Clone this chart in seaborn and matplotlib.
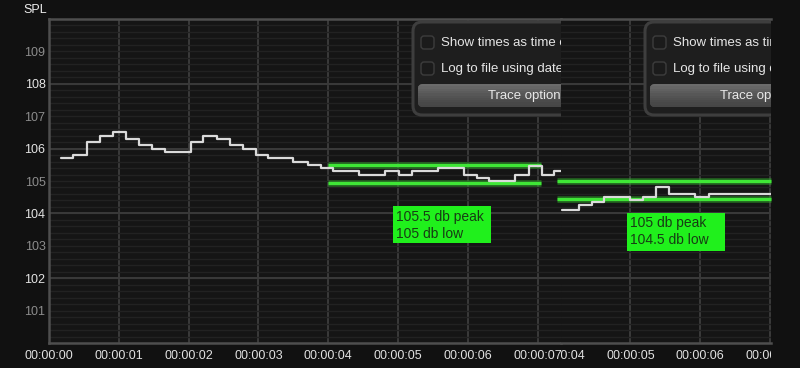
import numpy as np
import matplotlib
matplotlib.use("Agg")
import matplotlib.pyplot as plt
import seaborn as sns
from matplotlib.patches import FancyBboxPatch, Rectangle
from matplotlib.transforms import Affine2D, Bbox, TransformedBbox, blended_transform_factory
from matplotlib.ticker import MultipleLocator

# ---------------- data ----------------
left_times = [0.17, 0.35, 0.54, 0.73, 0.92, 1.11, 1.29, 1.47, 1.66, 1.85,
              2.04, 2.21, 2.40, 2.59, 2.78, 2.96, 3.14, 3.32, 3.50, 3.71,
              3.90, 4.07, 4.26, 4.44, 4.63, 4.81, 5.02, 5.20, 5.39, 5.58,
              5.76, 5.95, 6.13, 6.31, 6.49, 6.68, 6.88, 7.06, 7.24, 7.34]
left_spl = [105.7, 105.8, 106.2, 106.4, 106.5, 106.3, 106.1, 106.0, 105.9, 105.9,
            106.2, 106.4, 106.3, 106.1, 106.0, 105.8, 105.7, 105.7, 105.6, 105.5,
            105.4, 105.3, 105.3, 105.2, 105.2, 105.3, 105.2, 105.3, 105.3, 105.4,
            105.4, 105.2, 105.1, 105.0, 105.0, 105.2, 105.45, 105.2, 105.3, 105.3]

right_times = [4.02, 4.27, 4.45, 4.62, 4.81, 5.00, 5.18, 5.36, 5.56, 5.74,
               5.93, 6.12, 6.30, 6.49, 6.67, 6.86, 7.02]
right_spl = [104.1, 104.25, 104.35, 104.5, 104.5, 104.4, 104.5, 104.8, 104.6, 104.6,
             104.5, 104.6, 104.6, 104.6, 104.6, 104.6, 104.6]

left_ticks = [0, 1, 2, 3, 4, 5, 6, 7]
left_tick_labels = ["00:00:00", "00:00:01", "00:00:02", "00:00:03",
                    "00:00:04", "00:00:05", "00:00:06", "00:00:07"]
right_ticks = [4, 5, 6, 7]
right_tick_labels = ["00:00:04", "00:00:05", "00:00:06", "00:00:07"]
y_ticks = [101, 102, 103, 104, 105, 106, 107, 108, 109]
y_bright = [102, 104, 106, 108]

# annotation levels (as drawn) and their labels
left_band = [105.5, 104.95]
left_band_span = [4.0, 7.05]
right_band = [105.0, 104.45]
right_band_span = [3.95, 7.02]
left_note = ["105.5 db peak", "105 db low"]
right_note = ["105 db peak", "104.5 db low"]

# ---------------- style ----------------
sns.set_theme(style="dark")
plt.rcParams["font.family"] = ["Liberation Sans", "DejaVu Sans"]

W, H = 800, 368
BG = "#111111"
AXBG = "#151515"
fig = plt.figure(figsize=(8, 3.68), dpi=100, facecolor=BG)
PX = Affine2D().scale(1 / W, -1 / H).translate(0, 1) + fig.transFigure

ax_left_px, ax_split_px, ax_right_px = 49, 561, 771
top_px, bot_px = 19, 343
axL = fig.add_axes([ax_left_px / W, 1 - bot_px / H, (ax_split_px - ax_left_px) / W, (bot_px - top_px) / H])
axR = fig.add_axes([ax_split_px / W, 1 - bot_px / H, (ax_right_px - ax_split_px) / W, (bot_px - top_px) / H])
axR.set_zorder(2)
axL.set_zorder(1)

pps = 69.8
XL = (0, (ax_split_px - ax_left_px) / pps)
XR = (4.006, 4.006 + (ax_right_px - ax_split_px) / pps)

# ---------------- data lines ----------------
sns.lineplot(x=left_times, y=left_spl, ax=axL, drawstyle="steps-post", color="#dadada",
             linewidth=1.6, estimator=None, zorder=3)
sns.lineplot(x=right_times, y=right_spl, ax=axR, drawstyle="steps-post", color="#dadada",
             linewidth=1.6, estimator=None, zorder=3)

for ax in (axL, axR):
    ax.set_xlabel("")
    ax.set_ylabel("")
    ax.set_facecolor(AXBG)
    ax.yaxis.set_minor_locator(MultipleLocator(0.2))
    ax.yaxis.remove_overlapping_locs = False
    ax.grid(False)
    ax.yaxis.grid(True, which="minor", color="#222222", lw=1.0)
    ax.yaxis.grid(False, which="major")
    ax.xaxis.grid(True, which="major", color="#3b3b3b", lw=1.4)
    ax.xaxis.grid(False, which="minor")
    ax.tick_params(which="both", length=0)
    for yb in y_bright:
        ax.axhline(yb, color="#3a3a3a", lw=1.4, zorder=0.6)
    for s in ax.spines.values():
        s.set_color("#4e4e4e")
        s.set_linewidth(1.8)
    ax.spines["right"].set_visible(False)

axR.spines["left"].set_visible(False)

# ticks
axL.set_xticks(left_ticks, left_tick_labels)
axL.tick_params(axis="x", pad=5, labelsize=9, labelcolor="#e2e2e2")
axL.set_yticks(y_ticks, [str(v) for v in y_ticks])
axL.tick_params(axis="y", pad=2.5, labelsize=9)
for lab, v in zip(axL.get_yticklabels(), y_ticks):
    lab.set_color("#e4e4e4" if v in y_bright else "#8c8c8c")
axR.set_xticks(right_ticks, [""] * len(right_ticks))
axR.set_yticks(y_ticks, [""] * len(y_ticks))
for ax, xl in ((axL, XL), (axR, XR)):
    ax.yaxis.grid(False, which="major")
    ax.set_xlim(*xl)
    ax.set_ylim(100, 110)

# right chart tick labels, clipped to the visible strip
clip_r = TransformedBbox(Bbox.from_extents(ax_split_px / W, 0, ax_right_px / W, 1), fig.transFigure)
trR = blended_transform_factory(axR.transData, PX)
for t, lab in zip(right_ticks, right_tick_labels):
    txt = fig.text(t, bot_px + 5 * 100 / 72, lab, transform=trR, ha="center", va="top",
                   fontsize=9, color="#e2e2e2")
    txt.set_clip_box(clip_r)
    txt.set_clip_on(True)

fig.text(23 / W, 1 - 10 / H, "SPL", ha="left", va="center", fontsize=9, color="#eeeeee")

# ---------------- green annotations ----------------
def band(ax, levels, span, clip):
    for lv in levels:
        ax.plot(span, [lv, lv], color="#2fa82a", lw=5, alpha=0.45, zorder=2.4,
                solid_capstyle="butt", clip_on=clip)
        ax.plot(span, [lv, lv], color="#3fe636", lw=2.4, zorder=2.5,
                solid_capstyle="butt", clip_on=clip)

band(axL, left_band, left_band_span, True)
band(axR, right_band, right_band_span, False)

def note(ax, x0, y0, w, h, lines):
    ax.add_patch(Rectangle((x0, y0), w, h, transform=PX, facecolor="#20f01c",
                           edgecolor="none", zorder=4))
    ax.text(x0 + 3, y0 + 10.5, lines[0], transform=PX, ha="left", va="center",
            fontsize=10, color="#173d14", zorder=4.5)
    ax.text(x0 + 3, y0 + 27.5, lines[1], transform=PX, ha="left", va="center",
            fontsize=10, color="#173d14", zorder=4.5)

note(axL, 393, 206, 98, 37, left_note)
note(axR, 627, 213, 98, 38, right_note)

# ---------------- option panels (UI overlay) ----------------
def panel(ax, x0, vis_right):
    box = FancyBboxPatch((x0, 22), 230, 93, boxstyle="round,pad=0,rounding_size=9",
                         transform=PX, facecolor="#1e1e1e", edgecolor="#3e3e3e",
                         lw=2.2, zorder=5)
    ax.add_patch(box)
    for cy, label in ((42.5, "Show times as time of day"), (68.5, "Log to file using date stamp")):
        cb = FancyBboxPatch((x0 + 8, cy - 6.5), 13, 13, boxstyle="round,pad=0,rounding_size=3",
                            transform=PX, facecolor="#1b1b1b", edgecolor="#3d3d3d",
                            lw=1.0, zorder=6)
        ax.add_patch(cb)
        ax.text(x0 + 28, cy + 0.5, label, transform=PX, ha="left", va="center",
                fontsize=9.5, color="#e6e6e6", zorder=7, clip_on=True)
    bx, by, bw, bh = x0 + 5, 84, 220, 23
    btn = FancyBboxPatch((bx, by), bw, bh, boxstyle="round,pad=0,rounding_size=5",
                         transform=PX, facecolor="#555555", edgecolor="none", zorder=6)
    ax.add_patch(btn)
    shades = ["#6b6b6b", "#666666", "#616161", "#5c5c5c", "#575757", "#535353",
              "#4f4f4f", "#4b4b4b", "#484848", "#464646"]
    sh = bh / len(shades)
    wv = min(bx + bw, vis_right) - bx
    for i, c in enumerate(shades):
        r = Rectangle((bx, by + i * sh), wv, sh + 0.3, transform=PX, facecolor=c,
                      edgecolor="none", zorder=6.2)
        ax.add_patch(r)
        r.set_clip_path(btn)
    ax.text(bx + bw / 2, by + bh / 2 + 0.5, "Trace options", transform=PX, ha="center",
            va="center", fontsize=9.5, color="#e8e8e8", zorder=7, clip_on=True)

panel(axL, 413, ax_split_px)
panel(axR, 645, ax_right_px)

fig.savefig("out.png", dpi=100, facecolor=BG)
